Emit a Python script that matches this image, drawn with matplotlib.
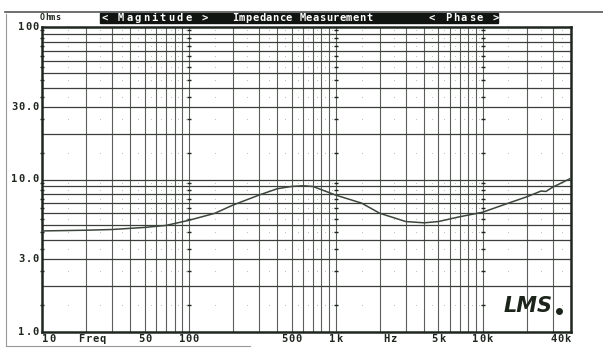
"""
Impedance magnitude plot, LMS style (log freq vs log ohms).
"""
import numpy as np
import matplotlib
matplotlib.use("Agg")
import matplotlib.pyplot as plt
from matplotlib.lines import Line2D
from matplotlib.patches import Rectangle

# ── data ─────────────────────────────────────────────────────────────
freq_hz = [10, 20, 30, 50, 70, 100, 150, 200, 300, 400, 500, 600, 700,
           1000, 1500, 2000, 3000, 4000, 5000, 7000, 10000, 15000, 20000,
           25000, 27000, 30000, 40000]
imp_ohm = [4.6, 4.65, 4.7, 4.85, 5.0, 5.4, 6.0, 6.8, 7.9, 8.7, 9.0, 9.1,
           9.0, 7.9, 7.0, 6.0, 5.3, 5.2, 5.3, 5.7, 6.1, 7.0, 7.7,
           8.4, 8.35, 8.9, 10.2]

x_tick_vals = [10, 50, 100, 500, 1000, 5000, 10000, 40000]
x_tick_text = ["10", "50", "100", "500", "1k", "5k", "10k", "40k"]
y_tick_vals = [1, 3, 10, 30, 100]
y_tick_text = ["1.0", "3.0", "10.0", "30.0", "100"]

W, H = 603, 348
INK = "#1f261f"
GRID = "#3a3f3a"
MONO = dict(family="DejaVu Sans Mono", fontweight="bold")

fig = plt.figure(figsize=(W / 100, H / 100), dpi=100)
ax = fig.add_axes([42 / W, 1 - 332 / H, (571 - 42) / W, (332 - 27) / H])
ax.set_xscale("log")
ax.set_yscale("log")
ax.set_xlim(10, 40000)
ax.set_ylim(1, 100)


def px_text(s, x, y, ha="left", pitch=7.0, color=INK, size=7.5):
    """wide, blocky terminal style text: one char every `pitch` pixels"""
    width = pitch * len(s)
    if ha == "center":
        x = x - width / 2
    elif ha == "right":
        x = x - width
    for i, ch in enumerate(s):
        if ch == " ":
            continue
        fig.text((x + pitch * (i + 0.5)) / W, 1 - y / H, ch, ha="center",
                 va="center", fontsize=size, color=color, **MONO)


def data_px(xv, yv):
    d = ax.transData.transform((xv, yv))
    return d[0], H - d[1]


# grid: full lines on every 1..9 step, faint dots on the half steps
v_lines = [m * 10 ** d for d in range(1, 5) for m in range(1, 10) if m * 10 ** d <= 40000]
h_lines = [m * 10 ** d for d in range(0, 2) for m in range(1, 10)]
for v in v_lines[1:]:
    ax.axvline(v, color="#5a5f5a", lw=0.8, zorder=1)
for h in h_lines[1:]:
    ax.axhline(h, color=GRID, lw=0.9, zorder=1)

x_half = [(m + 0.5) * 10 ** d for d in range(1, 5) for m in range(1, 10) if (m + 0.5) * 10 ** d < 40000]
y_half = [(m + 0.5) * 10 ** d for d in range(0, 2) for m in range(1, 10)]
xx, yy = np.meshgrid(x_half, y_half)
ax.scatter(xx.ravel(), yy.ravel(), s=0.6, color="#b8bcb8", lw=0, zorder=1)

# tick marks on the decade lines and left axis
for xd in [10, 100, 1000, 10000]:
    ax.plot([xd] * len(y_half), y_half, ls="none", marker="_", ms=3,
            mew=1.0, color=INK, zorder=2, clip_on=False)

# impedance curve
ax.plot(freq_hz, imp_ohm, color="#3c463c", lw=1.1, zorder=3)

for s in ax.spines.values():
    s.set_color(INK)
    s.set_linewidth(1.8)
ax.set_xticks([])
ax.set_yticks([])
ax.minorticks_off()

# axis labels
for v, t in zip(x_tick_vals, x_tick_text):
    ha = "center"
    if v == 10:
        ha = "left"
    if v == 40000:
        ha = "right"
    xp, _ = data_px(v, 1)
    px_text(t, xp, 339, ha=ha)
px_text("Freq", 92, 339, ha="center")
px_text("Hz", 390, 339, ha="center")
for v, t in zip(y_tick_vals, y_tick_text):
    _, yp = data_px(10, v)
    px_text(t, 39, yp, ha="right")

# header
px_text("Ohms", 40, 17, pitch=5.0, size=6)
fig.patches.append(Rectangle((100 / W, 1 - 23 / H), 398 / W, 10 / H,
                             transform=fig.transFigure, color="#111511", zorder=0))
px_text("< Magnitude >", 100, 18, pitch=8.4, color="white")
px_text("Impedance Measurement", 232, 18, pitch=6.7, color="white")
px_text("< Phase >", 428, 18, pitch=8.0, color="white")

# LMS signature
ax.text(0.965, 0.085, "LMS", transform=ax.transAxes, ha="right", va="center",
        fontsize=15, style="italic", fontweight="bold", color="#1c241c",
        family="DejaVu Sans")
ax.plot([0.978], [0.07], transform=ax.transAxes, marker="o", ms=4, color="#1c241c")

# scan frame
fig.add_artist(Line2D([5 / W, 1], [1 - 12 / H, 1 - 12 / H],
                      transform=fig.transFigure, color="#555", lw=1.2))
fig.add_artist(Line2D([6 / W, 6 / W], [1 - 14 / H, 1 - 346 / H],
                      transform=fig.transFigure, color="#999", lw=0.8))
fig.add_artist(Line2D([6 / W, 250 / W], [1 - 346 / H, 1 - 346 / H],
                      transform=fig.transFigure, color="#999", lw=0.8))

fig.savefig("out.png", dpi=100)
